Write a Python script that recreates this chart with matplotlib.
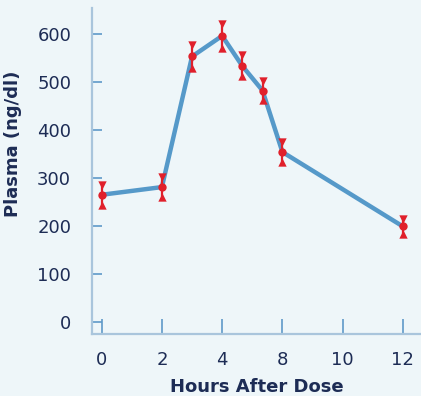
import matplotlib
matplotlib.use("Agg")
import matplotlib.pyplot as plt

# data: x is the slot on the (evenly spaced) hour axis
tick_pos = [0, 1, 2, 3, 4, 5]
tick_labels = ["0", "2", "4", "8", "10", "12"]
x_slot = [0, 1, 1.5, 2, 2.33, 2.67, 3, 5]
plasma = [265, 281, 553, 596, 534, 482, 354, 199]
err = [21, 21, 24, 25, 22, 20, 21, 16]

BG = "#eef6f9"
LINE = "#5599c9"
RED = "#e0202b"
NAVY = "#1d2c55"
SPINE = "#a9c5dc"
TICK = "#5f99c8"

plt.rcParams["font.family"] = ["DejaVu Sans"]

fig = plt.figure(figsize=(4.21, 3.96), dpi=100, facecolor=BG)
ax = fig.add_axes([92 / 421, 1 - 334 / 396, 329 / 421, 326 / 396], facecolor=BG)

ax.plot(x_slot, plasma, color=LINE, lw=3.2, zorder=2, solid_joinstyle="round")
ax.errorbar(x_slot, plasma, yerr=err, fmt="none", ecolor=RED, elinewidth=1.6, zorder=3)
lo = [p - e for p, e in zip(plasma, err)]
hi = [p + e for p, e in zip(plasma, err)]
ax.scatter(x_slot, hi, marker="v", s=36, color=RED, lw=0, zorder=4)
ax.scatter(x_slot, lo, marker="^", s=36, color=RED, lw=0, zorder=4)
ax.scatter(x_slot, plasma, s=36, color=RED, lw=0, zorder=5)

ax.set_xlim(-0.16, 5.3)
ax.set_ylim(-25, 654)
ax.set_xticks(tick_pos)
ax.set_xticklabels(tick_labels)
ax.set_yticks(range(0, 601, 100))

for s in ["top", "right"]:
    ax.spines[s].set_visible(False)
for s in ["left", "bottom"]:
    ax.spines[s].set_color(SPINE)
    ax.spines[s].set_linewidth(1.6)

ax.tick_params(axis="y", direction="in", length=7, width=1.2, color=TICK,
               labelcolor=NAVY, labelsize=13, pad=15)
ax.tick_params(axis="x", direction="in", length=11, width=1.2, color=TICK,
               labelcolor=NAVY, labelsize=13, pad=12)

ax.set_xlabel("Hours After Dose", fontsize=13, fontweight="bold", color=NAVY, labelpad=7)
ax.set_ylabel("Plasma (ng/dl)", fontsize=13, fontweight="bold", color=NAVY)
ax.yaxis.set_label_coords(-70 / 329, (334 - 144) / 326)

fig.savefig("out.png", dpi=100, facecolor=BG)
